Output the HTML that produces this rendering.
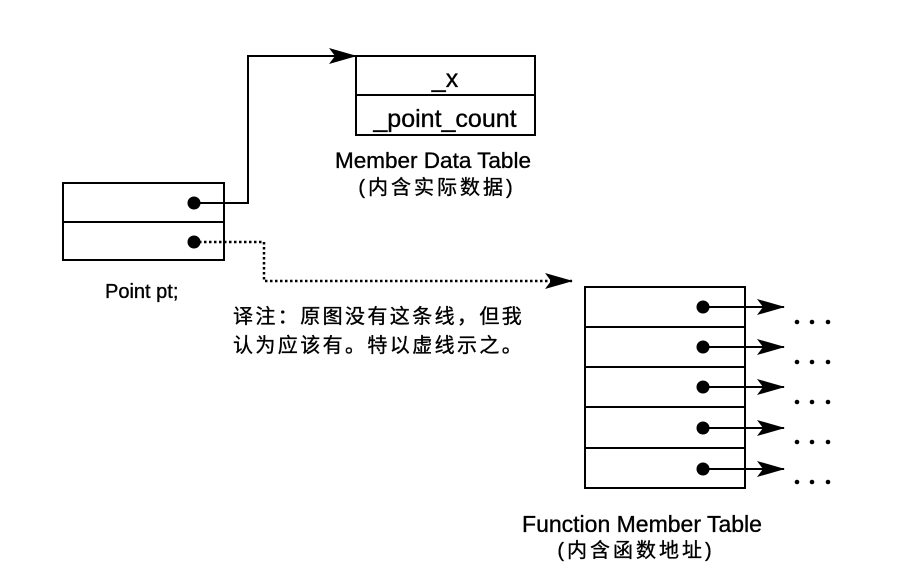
<!DOCTYPE html>
<html><head><meta charset="utf-8"><style>
html,body{margin:0;padding:0;background:#fff;}
svg{display:block;}
text{font-family:"Liberation Sans","Noto Sans CJK SC",sans-serif;fill:#000;stroke:#000;stroke-width:0.35;}
</style></head><body>
<svg width="903" height="576" viewBox="0 0 903 576" xmlns="http://www.w3.org/2000/svg">
<defs>
<marker id="ah" markerWidth="28" markerHeight="16" refX="27" refY="8" orient="auto" markerUnits="userSpaceOnUse">
<path d="M0,0 L28,8 L0,16 L6,8 Z" fill="#000"/>
</marker>
</defs>
<g fill="none" stroke="#000" stroke-width="2">
<rect x="356" y="56" width="179" height="79"/>
<line x1="356" y1="95" x2="535" y2="95"/>
<rect x="63" y="183" width="161" height="77"/>
<line x1="63" y1="222" x2="224" y2="222"/>
<rect x="585" y="287" width="160" height="201"/>
<line x1="585" y1="327" x2="745" y2="327"/>
<line x1="585" y1="367" x2="745" y2="367"/>
<line x1="585" y1="407" x2="745" y2="407"/>
<line x1="585" y1="448" x2="745" y2="448"/>
<polyline points="194,203 248,203 248,56 356,56" marker-end="url(#ah)"/>
<polyline points="194,242 264,242 264,281 572,281" stroke-dasharray="2.5,2.5" stroke-width="2.5" marker-end="url(#ah)"/>
<line x1="703" y1="307" x2="784" y2="307" marker-end="url(#ah)"/>
<line x1="703" y1="347" x2="784" y2="347" marker-end="url(#ah)"/>
<line x1="703" y1="387" x2="784" y2="387" marker-end="url(#ah)"/>
<line x1="703" y1="428" x2="784" y2="428" marker-end="url(#ah)"/>
<line x1="703" y1="469" x2="784" y2="469" marker-end="url(#ah)"/>
</g>
<g fill="#000">
<circle cx="194" cy="203" r="6.5"/>
<circle cx="194" cy="242" r="6.5"/>
<circle cx="703" cy="307" r="6.5"/>
<circle cx="703" cy="347" r="6.5"/>
<circle cx="703" cy="387" r="6.5"/>
<circle cx="703" cy="428" r="6.5"/>
<circle cx="703" cy="469" r="6.5"/>
<circle cx="797" cy="322" r="2.3"/><circle cx="812" cy="322" r="2.3"/><circle cx="828" cy="322" r="2.3"/>
<circle cx="797" cy="362" r="2.3"/><circle cx="812" cy="362" r="2.3"/><circle cx="828" cy="362" r="2.3"/>
<circle cx="797" cy="402" r="2.3"/><circle cx="812" cy="402" r="2.3"/><circle cx="828" cy="402" r="2.3"/>
<circle cx="797" cy="442" r="2.3"/><circle cx="812" cy="442" r="2.3"/><circle cx="828" cy="442" r="2.3"/>
<circle cx="797" cy="482" r="2.3"/><circle cx="812" cy="482" r="2.3"/><circle cx="828" cy="482" r="2.3"/>
</g>
<text x="445" y="87" font-size="25" text-anchor="middle">_x</text>
<text x="445" y="127" font-size="25" text-anchor="middle">_point_count</text>
<text x="433" y="168" font-size="22.5" text-anchor="middle">Member Data Table</text>
<text x="437" y="194" font-size="20" text-anchor="middle" letter-spacing="3">(内含实际数据)</text>
<text x="105" y="298" font-size="20">Point pt;</text>
<text x="233" y="323" font-size="20" letter-spacing="2.4">译注：原图没有这条线，但我</text>
<text x="233" y="352" font-size="20" letter-spacing="2.4">认为应该有。特以虚线示之。</text>
<text x="642" y="532" font-size="23" text-anchor="middle">Function Member Table</text>
<text x="636" y="557" font-size="20" text-anchor="middle" letter-spacing="3">(内含函数地址)</text>
</svg>
</body></html>
